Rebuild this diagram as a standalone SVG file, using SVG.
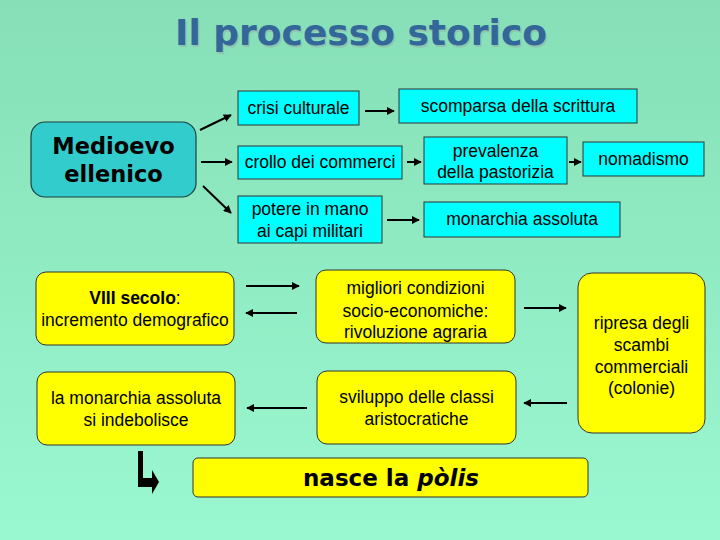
<svg xmlns="http://www.w3.org/2000/svg" width="720" height="540" viewBox="0 0 720 540">
<defs>
<linearGradient id="bg" x1="0" y1="0" x2="0" y2="1">
<stop offset="0" stop-color="#86dfb6"/>
<stop offset="1" stop-color="#9af8d0"/>
</linearGradient>
<marker id="ah" viewBox="0 0 10 10" refX="9" refY="5" markerWidth="4" markerHeight="4" orient="auto" markerUnits="strokeWidth">
<path d="M0,0 L10,5 L0,10 z" fill="#000"/>
</marker>
<style>
.cy{fill:#00ffff;stroke:#333;stroke-width:1}
.ye{fill:#ffff00;stroke:#333;stroke-width:1}
.t{font-family:"Liberation Sans",Arial,sans-serif;font-size:17.5px;fill:#000;text-anchor:middle}
.v{font-family:"DejaVu Sans",Verdana,sans-serif;font-weight:bold;text-anchor:middle}
.c{stroke:#000;stroke-width:2;fill:none;marker-end:url(#ah)}
</style>
</defs>
<rect width="720" height="540" fill="url(#bg)"/>
<g id="title">
<text class="v" x="362.5" y="46.5" font-size="36" fill="#8fc4b0">Il processo storico</text>
<text class="v" x="361" y="45" font-size="36" fill="#336699">Il processo storico</text>
</g>
<g id="medioevo">
<rect x="31" y="122" width="165" height="75" rx="14" fill="#33cccc" stroke="#1f3f3f" stroke-width="1.2"/>
<text class="v" x="113.5" y="154" font-size="22.5">Medioevo</text>
<text class="v" x="113.5" y="182" font-size="22.5">ellenico</text>
</g>
<g id="crisi"><rect class="cy" x="238" y="91" width="121" height="34"/><text class="t" x="298.5" y="114" font-size="16.5">crisi culturale</text></g>
<g id="scomparsa"><rect class="cy" x="399" y="89" width="238" height="34"/><text class="t" x="518" y="112">scomparsa della scrittura</text></g>
<g id="crollo"><rect class="cy" x="238" y="146" width="164" height="33"/><text class="t" x="320" y="168">crollo dei commerci</text></g>
<g id="prevalenza"><rect class="cy" x="424" y="137" width="143" height="47"/><text class="t" x="495.5" y="157">prevalenza</text><text class="t" x="495.5" y="178">della pastorizia</text></g>
<g id="nomadismo"><rect class="cy" x="583" y="142" width="121" height="34"/><text class="t" x="643.5" y="165">nomadismo</text></g>
<g id="potere"><rect class="cy" x="238" y="196" width="144" height="47"/><text class="t" x="310" y="215">potere in mano</text><text class="t" x="310" y="237">ai capi militari</text></g>
<g id="monarchia"><rect class="cy" x="424" y="202" width="196" height="35"/><text class="t" x="522" y="225">monarchia assoluta</text></g>
<g id="viii"><rect class="ye" x="36" y="272" width="198" height="73" rx="10"/><text class="t" x="135" y="304"><tspan font-weight="bold">VIII secolo</tspan>:</text><text class="t" x="135" y="326">incremento demografico</text></g>
<g id="indebolisce"><rect class="ye" x="37" y="372" width="198" height="73" rx="10"/><text class="t" x="136" y="404">la monarchia assoluta</text><text class="t" x="136" y="426">si indebolisce</text></g>
<g id="migliori"><rect class="ye" x="316" y="270" width="199" height="73" rx="10"/><text class="t" x="415.5" y="294">migliori condizioni</text><text class="t" x="415.5" y="317">socio-economiche:</text><text class="t" x="415.5" y="338">rivoluzione agraria</text></g>
<g id="ripresa"><rect class="ye" x="578" y="273" width="127" height="160" rx="14"/><text class="t" x="641.5" y="329">ripresa degli</text><text class="t" x="641.5" y="351">scambi</text><text class="t" x="641.5" y="373">commerciali</text><text class="t" x="641.5" y="394">(colonie)</text></g>
<g id="sviluppo"><rect class="ye" x="317" y="371" width="199" height="73" rx="10"/><text class="t" x="416.5" y="403">sviluppo delle classi</text><text class="t" x="416.5" y="425">aristocratiche</text></g>
<g id="polis"><rect class="ye" x="193" y="458" width="395" height="39" rx="5"/><text class="v" x="391" y="486" font-size="23">nasce la <tspan font-style="italic">pòlis</tspan></text></g>
<g id="connectors">
<line class="c" x1="200" y1="130" x2="231" y2="115"/>
<line class="c" x1="201" y1="162" x2="232" y2="162"/>
<line class="c" x1="203" y1="186" x2="231" y2="213"/>
<line class="c" x1="365" y1="111" x2="394" y2="111"/>
<line class="c" x1="407" y1="162" x2="421" y2="162"/>
<line class="c" x1="569" y1="162" x2="581" y2="162"/>
<line class="c" x1="387" y1="220" x2="419" y2="220"/>
<line class="c" x1="246" y1="286" x2="299" y2="286"/>
<line class="c" x1="297" y1="313" x2="246" y2="313"/>
<line class="c" x1="307" y1="408" x2="247" y2="408"/>
<line class="c" x1="524" y1="308" x2="566" y2="308"/>
<line class="c" x1="567" y1="403" x2="524" y2="403"/>
<polygon points="138,451 143,451 143,478 152,478 152,470 159,482 152,494 152,487 138,487" fill="#000"/>
</g>
</svg>
